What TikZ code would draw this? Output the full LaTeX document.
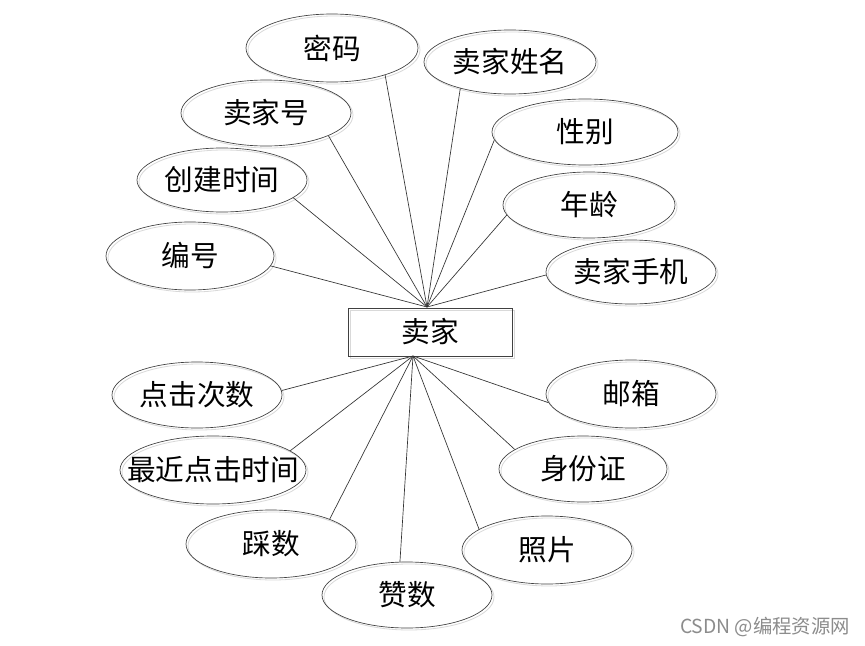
\documentclass[tikz,border=0pt]{standalone}
\usepackage{fontspec}
\usetikzlibrary{shapes.geometric}
\newfontfamily\cjk{Noto Sans CJK SC}
\begin{document}
\begin{tikzpicture}[x=0.75pt,y=-0.75pt,
  attr/.style={ellipse, draw=black!75, line width=0.5pt, inner sep=0pt, font=\cjk\fontsize{21.5}{24}\selectfont},
  shad/.style={ellipse, draw=black!15, line width=0.6pt, inner sep=0pt},
  ent/.style={rectangle, draw=black!75, line width=0.6pt, minimum width=164*0.75pt, minimum height=48*0.75pt, inner sep=0pt, font=\cjk\fontsize{21.5}{24}\selectfont},
  link/.style={draw=black!80, line width=0.5pt}]
\useasboundingbox (0,0) rectangle (865,646);
\fill[white] (0,0) rectangle (865,646);
% shadows
\foreach \x/\y/\rx/\ry in {332/48/86/34,510/62/86/32,266/113/85/33,585/132/93/33,222/180/85/32,589/205/86/33,190/256/84/34,631/272/85/32,197/395/85/33,631/394/85/34,213/470/93/34,583/469/84/33,271/544/85/34,547/550/85/34,407/595/85/33}
  \node[shad, minimum width=2*\rx*0.75pt, minimum height=2*\ry*0.75pt] at (\x+2,\y+2) {};
\draw[black!15, line width=0.6pt] (350,310) rectangle (514,358);
% entity
\node[ent] (seller) at (430,332) {卖家};
\coordinate (top) at (427,307);
\coordinate (bot) at (413,356);
% attributes
\node[attr, minimum width=172*0.75pt, minimum height=68*0.75pt] (mima) at (332,48) {密码};
\node[attr, minimum width=172*0.75pt, minimum height=64*0.75pt] (xingming) at (510,62) {卖家姓名};
\node[attr, minimum width=170*0.75pt, minimum height=66*0.75pt] (hao) at (266,113) {卖家号};
\node[attr, minimum width=186*0.75pt, minimum height=66*0.75pt] (xingbie) at (585,132) {性别};
\node[attr, minimum width=170*0.75pt, minimum height=64*0.75pt] (chuangjian) at (222,180) {创建时间};
\node[attr, minimum width=172*0.75pt, minimum height=66*0.75pt] (nianling) at (589,205) {年龄};
\node[attr, minimum width=168*0.75pt, minimum height=68*0.75pt] (bianhao) at (190,256) {编号};
\node[attr, minimum width=170*0.75pt, minimum height=64*0.75pt] (shouji) at (631,272) {卖家手机};
\node[attr, minimum width=170*0.75pt, minimum height=66*0.75pt] (dianji) at (197,395) {点击次数};
\node[attr, minimum width=170*0.75pt, minimum height=68*0.75pt] (youxiang) at (631,394) {邮箱};
\node[attr, inner xsep=-20pt, minimum width=186*0.75pt, minimum height=68*0.75pt] (zuijin) at (213,470) {最近点击时间};
\node[attr, minimum width=168*0.75pt, minimum height=66*0.75pt] (shenfen) at (583,469) {身份证};
\node[attr, minimum width=170*0.75pt, minimum height=68*0.75pt] (caishu) at (271,544) {踩数};
\node[attr, minimum width=170*0.75pt, minimum height=68*0.75pt] (zhaopian) at (547,550) {照片};
\node[attr, minimum width=170*0.75pt, minimum height=66*0.75pt] (zanshu) at (407,595) {赞数};
% connectors
\draw[link] (top) -- (mima.-27);
\draw[link] (top) -- (xingming.208);
\draw[link] (top) -- (hao.-20);
\draw[link] (top) -- (xingbie.185);
\draw[link] (top) -- (chuangjian.-14);
\draw[link] (top) -- (nianling.187);
\draw[link] (top) -- (bianhao.-7);
\draw[link] (top) -- (shouji.182);
\draw[link] (bot) -- (dianji.3);
\draw[link] (bot) -- (zuijin.14);
\draw[link] (bot) -- (caishu.23);
\draw[link] (bot) -- (zanshu.102);
\draw[link] (bot) -- (zhaopian.163);
\draw[link] (bot) -- (shenfen.164);
\draw[link] (bot) -- (youxiang.186);
% watermark
\node[text=black!45, font=\cjk\fontsize{14.5}{16}\selectfont] (wm) at (765,627) {CSDN @编程资源网};
\end{tikzpicture}
\end{document}
